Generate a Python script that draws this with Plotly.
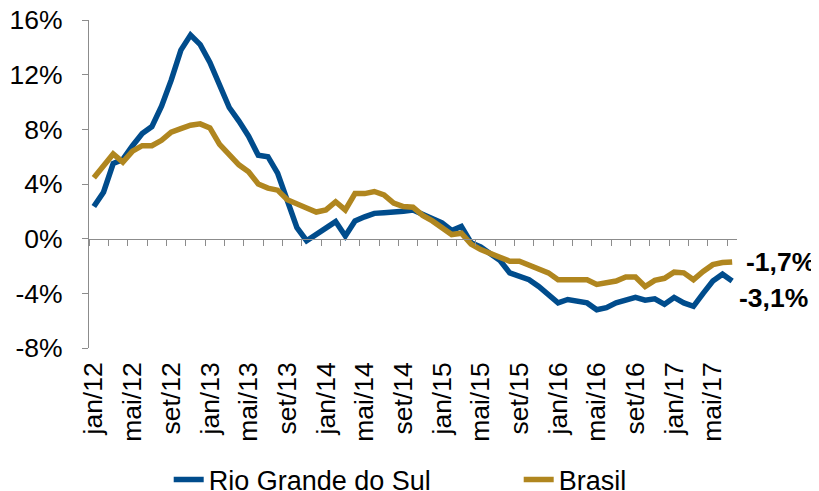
import plotly.graph_objects as go

# Month categories jan/12 .. jul/17
month_names = ["jan", "fev", "mar", "abr", "mai", "jun", "jul", "ago", "set", "out", "nov", "dez"]
years = [12, 13, 14, 15, 16, 17]
categories = [f"{m}/{y}" for y in years for m in month_names][:67]

rio_grande_do_sul = [
    2.35, 3.4, 5.5, 5.8, 6.8, 7.7, 8.2, 9.7, 11.6, 13.8, 14.9, 14.2,
    12.9, 11.2, 9.6, 8.6, 7.5, 6.1, 6.0, 4.8, 2.8, 0.8, -0.15, 0.3,
    0.7, 1.25, 0.2, 1.3, 1.6, 1.85, 1.9, 1.9, 2.0, 2.1, 1.8, 1.5,
    1.15, 0.6, 0.9, -0.3, -0.6, -1.1, -1.6, -2.5, -2.7, -3.0, -3.5, -4.1,
    -4.7, -4.45, -4.55, -4.7, -5.2, -5.05, -4.7, -4.55, -4.3, -4.5, -4.4, -4.8,
    -4.3, -4.7, -4.95, -4.0, -3.1, -2.6, -3.1,
]
brasil = [
    4.45, 5.35, 6.2, 5.6, 6.4, 6.8, 6.8, 7.2, 7.8, 8.05, 8.3, 8.4,
    8.1, 6.9, 6.1, 5.4, 4.9, 4.0, 3.7, 3.55, 2.85, 2.5, 2.25, 1.95,
    2.1, 2.7, 2.1, 3.3, 3.3, 3.45, 3.2, 2.6, 2.35, 2.3, 1.7, 1.3,
    0.8, 0.3, 0.4, -0.4, -0.8, -1.1, -1.35, -1.65, -1.65, -1.9, -2.15, -2.5,
    -3.0, -3.0, -2.9, -3.0, -3.35, -3.2, -3.1, -2.8, -2.8, -3.5, -3.05, -2.9,
    -2.45, -2.5, -3.0, -2.4, -1.9, -1.75, -1.7,
]

y_ticks = [-8, -4, 0, 4, 8, 12, 16]
y_tick_labels = [f"{v}%" for v in y_ticks]

BLUE = "#004C8C"
GOLD = "#B0861F"
AXIS = "#8C8C8C"
FONT = "Liberation Sans, Arial, sans-serif"
FS = 26.5

idx = list(range(len(categories)))
label_idx = idx[::4]
label_txt = [categories[i] for i in label_idx]
boundary_ticks = [i - 0.5 for i in idx[::2]]
xr = [-0.5, len(categories) - 0.5]

fig = go.Figure()
fig.add_trace(go.Scatter(x=idx, y=rio_grande_do_sul, mode="lines", name="Rio Grande do Sul",
                         line=dict(color=BLUE, width=5.5), legendwidth=305))
fig.add_trace(go.Scatter(x=idx, y=brasil, mode="lines", name="Brasil",
                         line=dict(color=GOLD, width=5.5)))
# helper trace to make the zero-line axis render
fig.add_trace(go.Scatter(x=[None], y=[None], xaxis="x2", showlegend=False, hoverinfo="skip"))

def fmt(v):
    return f"{v:.1f}%".replace(".", ",")

fig.add_annotation(x=idx[-1], y=brasil[-1], xref="x", yref="y", text=f"<b>{fmt(brasil[-1])}</b>",
                   showarrow=False, xanchor="left", yanchor="middle", xshift=12,
                   font=dict(family=FONT, size=FS, color="black"))
fig.add_annotation(x=idx[-1], y=rio_grande_do_sul[-1], xref="x", yref="y",
                   text=f"<b>{fmt(rio_grande_do_sul[-1])}</b>",
                   showarrow=False, xanchor="left", yanchor="middle", xshift=5, yshift=-17,
                   font=dict(family=FONT, size=FS, color="black"))

# page body adds an 8px offset, so the figure is 811x483 and positions are shifted by 8px
fig.update_layout(
    width=811, height=483,
    margin=dict(l=81, r=82, t=12, b=143, autoexpand=False),
    paper_bgcolor="white", plot_bgcolor="white",
    font=dict(family=FONT, size=FS, color="black"),
    xaxis=dict(range=xr, tickmode="array", tickvals=label_idx, ticktext=label_txt,
               tickangle=-90, showline=False, ticks="", showgrid=False, zeroline=False,
               tickfont=dict(size=FS), ticklabelstandoff=8, automargin=False,
               ticklabeloverflow="allow"),
    xaxis2=dict(range=xr, overlaying="x", anchor="free", position=1/3, side="bottom",
                tickmode="array", tickvals=boundary_ticks, showticklabels=False,
                showline=True, linecolor=AXIS, linewidth=1.3,
                ticks="outside", ticklen=6, tickwidth=1.3, tickcolor=AXIS,
                showgrid=False, zeroline=False, automargin=False),
    yaxis=dict(range=[-8, 16], tickmode="array", tickvals=y_ticks, ticktext=y_tick_labels,
               showline=True, linecolor=AXIS, linewidth=1.3, ticks="outside", ticklen=6,
               tickwidth=1.3, tickcolor=AXIS, showgrid=False, zeroline=False,
               tickfont=dict(size=FS), ticklabelstandoff=14, automargin=False,
               ticklabeloverflow="allow"),
    legend=dict(orientation="h", x=0.123, xanchor="left", y=-0.402, yanchor="middle",
                font=dict(size=27), bgcolor="rgba(0,0,0,0)"),
    showlegend=True,
)

fig.write_html("out.html")
